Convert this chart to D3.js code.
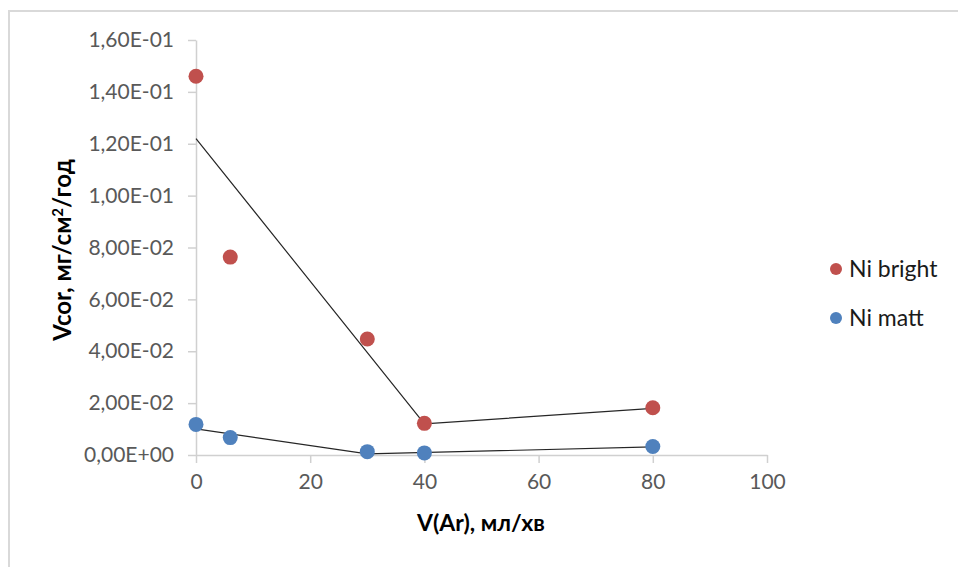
<!DOCTYPE html>
<html>
<head>
<meta charset="utf-8">
<script src="https://cdn.jsdelivr.net/npm/d3@7"></script>
<style>
  html, body { margin: 0; padding: 0; background: #fff; }
  svg { display: block; }
</style>
</head>
<body>
<svg id="chart" width="958" height="567"></svg>
<script>
// Argon flow rate, ml/min
const flowRates = [0, 6, 30, 40, 80];
// Corrosion rate, mg/cm²/year
const niBright = [0.146, 0.0763, 0.0447, 0.0122, 0.0182];
const niMatt = [0.0118, 0.0067, 0.0013, 0.0008, 0.0033];
// Guide lines through each series
const brightLineX = [0, 40, 80];
const brightLineY = [0.122, 0.0120, 0.0180];
const mattLineX = [0, 30, 80];
const mattLineY = [0.0101, 0.0004, 0.0031];
// Axis ticks
const xTicks = [0, 20, 40, 60, 80, 100];
const yTicks = [0, 0.02, 0.04, 0.06, 0.08, 0.10, 0.12, 0.14, 0.16];
const seriesNames = ["Ni bright", "Ni matt"];
const seriesColors = ["#C0504D", "#4F81BD"];

const svg = d3.select("#chart");
const font = "Lato, 'Open Sans', sans-serif";

// Outer chart frame
svg.append("rect")
  .attr("x", 9).attr("y", 11)
  .attr("width", 1000).attr("height", 600)
  .attr("fill", "none")
  .attr("stroke", "#d9d9d9")
  .attr("stroke-width", 2);

const x = d3.scaleLinear().domain([0, 100]).range([196, 767]);
const y = d3.scaleLinear().domain([0, 0.16]).range([455, 40]);

// Scientific labels with comma decimal separator, e.g. 1,60E-01
function sci(v) {
  if (v === 0) return "0,00E+00";
  const e = Math.floor(Math.log10(Math.abs(v)) + 1e-9);
  const m = v / Math.pow(10, e);
  const sign = e < 0 ? "-" : "+";
  const ea = String(Math.abs(e)).padStart(2, "0");
  return m.toFixed(2).replace(".", ",") + "E" + sign + ea;
}

const axisColor = "#d0d0d0";
const labelColor = "#595959";

// X axis
const xAxis = svg.append("g")
  .attr("transform", `translate(0,${y(0)})`)
  .call(d3.axisBottom(x).tickValues(xTicks).tickSize(8).tickSizeOuter(0).tickPadding(11).tickFormat(d3.format("d")));
xAxis.select(".domain").attr("stroke", axisColor).attr("stroke-width", 1.5);
xAxis.selectAll(".tick line").attr("stroke", axisColor).attr("stroke-width", 1.5);
xAxis.selectAll(".tick text")
  .attr("fill", labelColor).attr("font-family", font).attr("font-size", 21);

// Y axis
const yAxis = svg.append("g")
  .attr("transform", `translate(${x(0)},0)`)
  .call(d3.axisLeft(y).tickValues(yTicks).tickSize(8).tickSizeOuter(0).tickPadding(14).tickFormat(sci));
yAxis.select(".domain").attr("stroke", axisColor).attr("stroke-width", 1.5);
yAxis.selectAll(".tick line").attr("stroke", axisColor).attr("stroke-width", 1.5);
yAxis.selectAll(".tick text")
  .attr("fill", labelColor).attr("font-family", font).attr("font-size", 21);

// Guide lines
const line = d3.line().x(d => x(d[0])).y(d => y(d[1]));
const guides = [
  d3.zip(brightLineX, brightLineY),
  d3.zip(mattLineX, mattLineY)
];
svg.append("g").selectAll("path")
  .data(guides)
  .join("path")
  .attr("d", line)
  .attr("fill", "none")
  .attr("stroke", "#262626")
  .attr("stroke-width", 1.2);

// Data points
const series = [niBright, niMatt];
series.forEach((vals, i) => {
  svg.append("g").selectAll("circle")
    .data(d3.zip(flowRates, vals))
    .join("circle")
    .attr("cx", d => x(d[0]))
    .attr("cy", d => y(d[1]))
    .attr("r", 7.5)
    .attr("fill", seriesColors[i]);
});

// Axis titles
svg.append("text")
  .attr("x", 481).attr("y", 531)
  .attr("text-anchor", "middle")
  .attr("font-family", font).attr("font-weight", "bold").attr("font-size", 23)
  .attr("fill", "#000")
  .text("V(Ar), мл/хв");

const yTitle = svg.append("text")
  .attr("transform", "translate(71,250) rotate(-90)")
  .attr("text-anchor", "middle")
  .attr("font-family", font).attr("font-weight", "bold").attr("font-size", 24)
  .attr("fill", "#000");
yTitle.append("tspan").text("Vcor, мг/см");
yTitle.append("tspan").attr("dy", -8).attr("font-size", 15).text("2");
yTitle.append("tspan").attr("dy", 8).text("/год");

// Legend
const legend = svg.append("g");
seriesNames.forEach((name, i) => {
  const ly = 269 + i * 49;
  legend.append("circle")
    .attr("cx", 836).attr("cy", ly).attr("r", 6)
    .attr("fill", seriesColors[i]);
  legend.append("text")
    .attr("x", 849).attr("y", ly + 8)
    .attr("font-family", font).attr("font-size", 23)
    .attr("fill", "#1a1a1a")
    .text(name);
});
</script>
</body>
</html>
